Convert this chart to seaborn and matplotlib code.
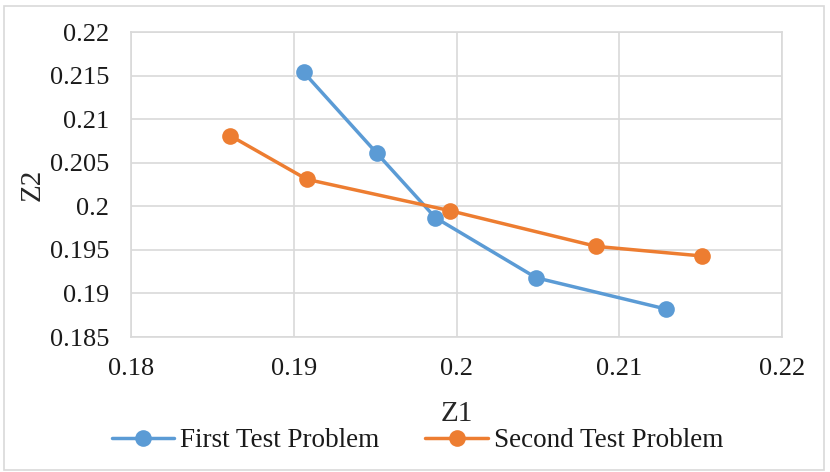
import pandas as pd
import matplotlib.pyplot as plt
import seaborn as sns
from matplotlib.patches import Rectangle

# data
first_z1 = [0.1906, 0.1951, 0.1987, 0.2049, 0.2129]
first_z2 = [0.2154, 0.2061, 0.1987, 0.1918, 0.1882]
second_z1 = [0.1861, 0.1908, 0.1996, 0.2086, 0.2151]
second_z2 = [0.2081, 0.2031, 0.1995, 0.1954, 0.1943]
series_names = ['First Test Problem', 'Second Test Problem']
x_ticks = [0.18, 0.19, 0.20, 0.21, 0.22]
x_tick_labels = ['0.18', '0.19', '0.2', '0.21', '0.22']
y_ticks = [0.185, 0.19, 0.195, 0.20, 0.205, 0.21, 0.215, 0.22]
y_tick_labels = ['0.185', '0.19', '0.195', '0.2', '0.205', '0.21', '0.215', '0.22']

df = pd.DataFrame({
    'Z1': first_z1 + second_z1,
    'Z2': first_z2 + second_z2,
    'Series': [series_names[0]] * len(first_z1) + [series_names[1]] * len(second_z1),
})

sns.set_style("white")
plt.rcParams['font.family'] = ['Liberation Serif', 'DejaVu Serif']

fig = plt.figure(figsize=(8.3, 4.72), dpi=100)
ax = fig.add_axes([0.158, 0.286, 0.784, 0.646])

palette = {series_names[0]: '#5B9BD5', series_names[1]: '#ED7D31'}
sns.lineplot(data=df, x='Z1', y='Z2', hue='Series', palette=palette, sort=False,
             marker='o', markersize=12, markeredgewidth=0, linewidth=2.5,
             ax=ax, legend=True)

ax.set_xlim(0.18, 0.22)
ax.set_ylim(0.185, 0.22)
ax.set_xticks(x_ticks)
ax.set_xticklabels(x_tick_labels)
ax.set_yticks(y_ticks)
ax.set_yticklabels(y_tick_labels)
ax.tick_params(axis='both', length=0, labelsize=19, colors='#1a1a1a')
ax.tick_params(axis='y', pad=16)
ax.tick_params(axis='x', pad=15)
ax.grid(True, color='#D9D9D9', linewidth=1.2)
for s in ax.spines.values():
    s.set_color('#D9D9D9')
    s.set_linewidth(1.2)

ax.set_xlabel('Z1', fontsize=21, labelpad=15)
ax.set_ylabel('Z2', fontsize=21, labelpad=3)

handles, labels = ax.get_legend_handles_labels()
ax.get_legend().remove()
fig.legend(handles, labels, loc='center', bbox_to_anchor=(0.503, 0.066), ncol=2,
           frameon=False, fontsize=19.5, handlelength=2.3, columnspacing=1.7,
           handletextpad=0.22, labelcolor='#1a1a1a')

# chart area border
fig.patches.append(Rectangle((0.005, 0.005), 0.988, 0.982, transform=fig.transFigure,
                             fill=False, edgecolor='#D9D9D9', linewidth=1.2))

fig.savefig('out.png', dpi=100)
